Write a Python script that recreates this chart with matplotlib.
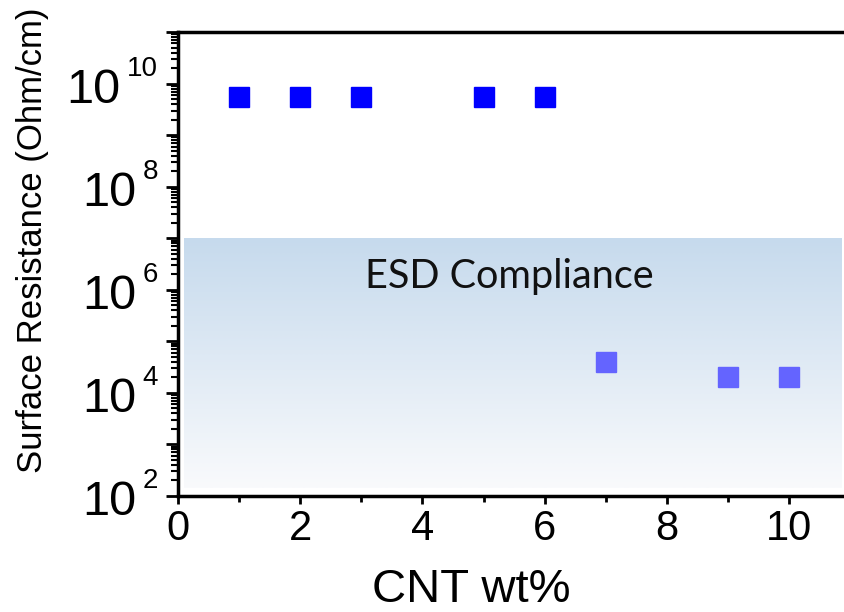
import numpy as np
import matplotlib
matplotlib.use("Agg")
import matplotlib.pyplot as plt
from matplotlib.colors import LinearSegmentedColormap
from matplotlib.ticker import LogLocator, FixedLocator, NullFormatter

plt.rcParams['font.family'] = ['Liberation Sans', 'DejaVu Sans']

# data
x_high = [1, 2, 3, 5, 6]
y_high = [5.5e9, 5.5e9, 5.5e9, 5.5e9, 5.5e9]
x_low = [7, 9, 10]
y_low = [4.0e4, 2.0e4, 2.0e4]
x_ticks = [0, 2, 4, 6, 8, 10]
y_exponents = [2, 4, 6, 8, 10]
band_label = "ESD Compliance"
band_top = 1e7
band_bottom = 10**2.15

fig = plt.figure(figsize=(8.44, 6.12), dpi=100)
ax = fig.add_axes([178/844, 1-496/612, 1-178/844, (496-32)/612])

ax.set_yscale('log')

# gradient band
cmap = LinearSegmentedColormap.from_list('g', ['#c6daed', '#f9fafc'])
grad = np.linspace(0, 1, 256).reshape(-1, 1)
yt = (np.log10(band_top) - 2) / 9
yb = (np.log10(band_bottom) - 2) / 9
ax.imshow(grad, cmap=cmap, extent=[0.1, 10.87, yb, yt], origin='upper',
          transform=ax.get_xaxis_transform(), aspect='auto', zorder=0,
          interpolation='bilinear')
ax.set_xlim(0, 10.9)
ax.set_ylim(1e2, 1e11)

ax.text(5.43, 10**6.03, band_label, fontsize=28.5, family=['Lato', 'DejaVu Sans'],
        ha='center', va='baseline', color='#111111', zorder=2)

ax.plot(x_high, y_high, 's', color='#0000ff', markersize=14.5, zorder=3, linestyle='none')
ax.plot(x_low, y_low, 's', color='#6464ff', markersize=14.5, zorder=3, linestyle='none')

# spines
for s in ['left', 'bottom', 'top']:
    ax.spines[s].set_linewidth(2.5)
ax.spines['right'].set_visible(False)

ax.xaxis.set_major_locator(FixedLocator(x_ticks))
ax.xaxis.set_minor_locator(FixedLocator([1, 3, 5, 7, 9]))
ax.set_xticklabels([str(v) for v in x_ticks])
y_ticks = [10.0**e for e in y_exponents]
ax.yaxis.set_major_locator(LogLocator(base=10, numticks=30))
ax.yaxis.set_major_formatter(NullFormatter())
ax.yaxis.set_minor_locator(LogLocator(base=10, subs=np.arange(2, 10), numticks=30))
ax.yaxis.set_minor_formatter(NullFormatter())

# y tick labels: 10 with a small superscript exponent
for e, v in zip(y_exponents, y_ticks):
    n = len(str(e))
    ax.annotate('10', xy=(0, v), xycoords=('axes fraction', 'data'),
                xytext=(-26 - 16 * n, -19), textcoords='offset pixels',
                ha='right', va='baseline', fontsize=35, annotation_clip=False)
    ax.annotate(str(e), xy=(0, v), xycoords=('axes fraction', 'data'),
                xytext=(-20, 8), textcoords='offset pixels',
                ha='right', va='baseline', fontsize=20, annotation_clip=False)

ax.tick_params(axis='y', which='major', length=9, width=2, direction='out')
ax.tick_params(axis='y', which='minor', length=5, width=1.5, direction='out')
ax.tick_params(axis='x', which='major', length=6, width=2, labelsize=30, pad=3, direction='out')
ax.tick_params(axis='x', which='minor', length=4, width=2, direction='out')
ax.tick_params(top=False, right=False, which='both')

ax.set_xlabel('CNT wt%', fontsize=34, ha='center', va='center')
ax.xaxis.set_label_coords((471 - 178) / 666, (496 - 590) / 464)
ax.set_ylabel('Surface Resistance (Ohm/cm)', fontsize=25, ha='center', va='center')
ax.yaxis.set_label_coords((33 - 178) / 666, (496 - 240) / 464)

fig.savefig('out.png', dpi=100)
